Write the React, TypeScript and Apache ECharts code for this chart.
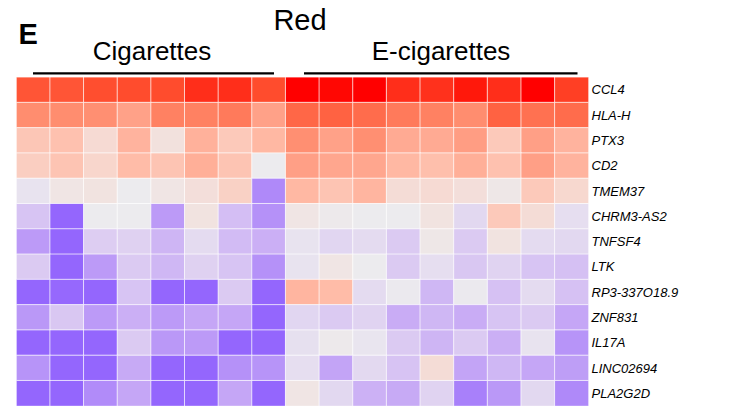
import React, { useEffect, useRef } from "react";
import * as echarts from "echarts";

const genes = [
  "CCL4", "HLA-H", "PTX3", "CD2", "TMEM37", "CHRM3-AS2", "TNFSF4",
  "LTK", "RP3-337O18.9", "ZNF831", "IL17A", "LINC02694", "PLA2G2D",
];
const cigaretteSamples = ["C1", "C2", "C3", "C4", "C5", "C6", "C7", "C8"];
const eCigaretteSamples = ["E1", "E2", "E3", "E4", "E5", "E6", "E7", "E8", "E9"];
const samples = [...cigaretteSamples, ...eCigaretteSamples];

// z-score like values, one array per gene (8 cigarettes + 9 e-cigarettes)
const ccl4 = [0.65, 0.65, 0.68, 0.69, 0.69, 0.8, 0.8, 0.69, 1.0, 0.97, 1.0, 0.8, 0.79, 0.9, 0.8, 1.0, 0.74];
const hlaH = [0.41, 0.41, 0.4, 0.32, 0.46, 0.46, 0.49, 0.32, 0.57, 0.59, 0.55, 0.49, 0.46, 0.41, 0.59, 0.53, 0.55];
const ptx3 = [0.16, 0.18, 0.08, 0.24, 0.05, 0.25, 0.15, 0.22, 0.4, 0.32, 0.4, 0.28, 0.28, 0.34, 0.15, 0.33, 0.24];
const cd2 = [0.13, 0.17, 0.1, 0.2, 0.17, 0.26, 0.17, 0.0, 0.33, 0.3, 0.3, 0.22, 0.19, 0.26, 0.18, 0.33, 0.24];
const tmem37 = [-0.05, 0.03, 0.04, 0.0, 0.03, 0.06, 0.12, -0.7, 0.22, 0.17, 0.23, 0.07, 0.08, 0.06, 0.02, 0.15, 0.09];
const chrm3as2 = [-0.24, -1.0, 0.0, 0.0, -0.55, 0.04, -0.28, -0.63, 0.03, 0.01, 0.0, 0.0, 0.04, -0.12, 0.15, 0.07, -0.08];
const tnfsf4 = [-0.55, -1.0, -0.18, -0.16, -0.34, -0.1, -0.3, -0.38, -0.05, -0.13, -0.1, -0.2, 0.02, -0.2, 0.04, -0.1, -0.12];
const ltk = [-0.2, -1.0, -0.55, -0.2, -0.33, -0.16, -0.24, -0.63, -0.05, 0.03, 0.0, -0.2, -0.08, -0.22, -0.15, -0.24, -0.27];
const rp3 = [-1.0, -0.98, -1.0, -0.24, -1.0, -1.0, -0.2, -1.0, 0.23, 0.2, -0.1, -0.01, -0.33, -0.01, -0.26, -0.1, -0.26];
const znf831 = [-0.57, -0.22, -0.55, -0.38, -0.55, -0.45, -0.45, -1.0, -0.13, -0.2, -0.15, -0.4, -0.33, -0.4, -0.24, -0.2, -0.45];
const il17a = [-1.0, -1.0, -1.0, -0.2, -0.57, -0.55, -1.0, -1.0, -0.07, 0.01, -0.04, -0.2, -0.34, -0.2, -0.38, -0.05, -0.6];
const linc02694 = [-0.6, -1.0, -1.0, -0.42, -1.0, -1.0, -0.63, -0.6, -0.08, -0.47, -0.11, -0.25, 0.07, -0.47, -0.33, -0.45, -0.52];
const pla2g2d = [-1.0, -1.0, -0.68, -0.45, -1.0, -1.0, -0.45, -1.0, 0.03, -0.12, -0.37, -0.42, -0.15, -0.78, -0.57, -0.12, -0.7];

const rows = [ccl4, hlaH, ptx3, cd2, tmem37, chrm3as2, tnfsf4, ltk, rp3, znf831, il17a, linc02694, pla2g2d];

const FONT = "'Liberation Sans', Arial, sans-serif";

const palette = [
  "#9466FD", "#9D72FC", "#A67EFA", "#AF89F9", "#B794F8", "#C0A0F6", "#C9ACF5",
  "#D2BBF4", "#DBCAF2", "#E4DBF0", "#ECEBEE", "#F8D6CC", "#FFBCA8", "#FFA68E",
  "#FF8F72", "#FF7858", "#FF6040", "#FF4A2B", "#FF2E1A", "#FF180B", "#FF0000",
];

export default function App() {
  const ref = useRef<HTMLDivElement>(null);
  useEffect(() => {
    if (!ref.current) return;
    const chart = echarts.init(ref.current, undefined, { renderer: "svg" });
    const data: [number, number, number][] = [];
    rows.forEach((r, yi) => r.forEach((v, xi) => data.push([xi, yi, v])));
    chart.setOption({
      animation: false,
      grid: { left: 16.5, top: 77.3, width: 572, height: 332.8, containLabel: false },
      xAxis: {
        type: "category",
        data: samples,
        show: false,
      },
      yAxis: {
        type: "category",
        data: genes,
        inverse: true,
        position: "right",
        axisLine: { show: false },
        axisTick: { show: false },
        splitLine: { show: false },
        axisLabel: {
          fontStyle: "italic",
          fontSize: 13,
          color: "#000",
          margin: 3,
          fontFamily: FONT,
        },
      },
      visualMap: {
        type: "continuous",
        min: -1,
        max: 1,
        dimension: 2,
        show: false,
        inRange: { color: palette },
      },
      series: [
        {
          type: "heatmap",
          data,
          itemStyle: { borderColor: "#ffffff", borderWidth: 0.7 },
          emphasis: { disabled: true },
        },
      ],
      graphic: [
        {
          type: "text",
          x: 18.5,
          y: 33.5,
          style: { text: "E", font: `bold 29px ${FONT}`, fill: "#000", align: "left", verticalAlign: "middle" },
        },
        {
          type: "text",
          x: 300,
          y: 19.5,
          style: { text: "Red", font: `29px ${FONT}`, fill: "#000", align: "center", verticalAlign: "middle" },
        },
        {
          type: "text",
          x: 152,
          y: 50.5,
          style: { text: "Cigarettes", font: `26px ${FONT}`, fill: "#000", align: "center", verticalAlign: "middle" },
        },
        {
          type: "text",
          x: 441,
          y: 50.5,
          style: { text: "E-cigarettes", font: `26px ${FONT}`, fill: "#000", align: "center", verticalAlign: "middle" },
        },
        {
          type: "line",
          shape: { x1: 33, y1: 73.3, x2: 274, y2: 73.3 },
          style: { stroke: "#000", lineWidth: 2.2 },
        },
        {
          type: "line",
          shape: { x1: 304, y1: 73.3, x2: 577.5, y2: 73.3 },
          style: { stroke: "#000", lineWidth: 2.2 },
        },
      ],
    });
    return () => chart.dispose();
  }, []);
  return (
    <div
      ref={ref}
      style={{ position: "fixed", left: 0, top: 0, width: 730, height: 406, background: "#fff" }}
    />
  );
}
